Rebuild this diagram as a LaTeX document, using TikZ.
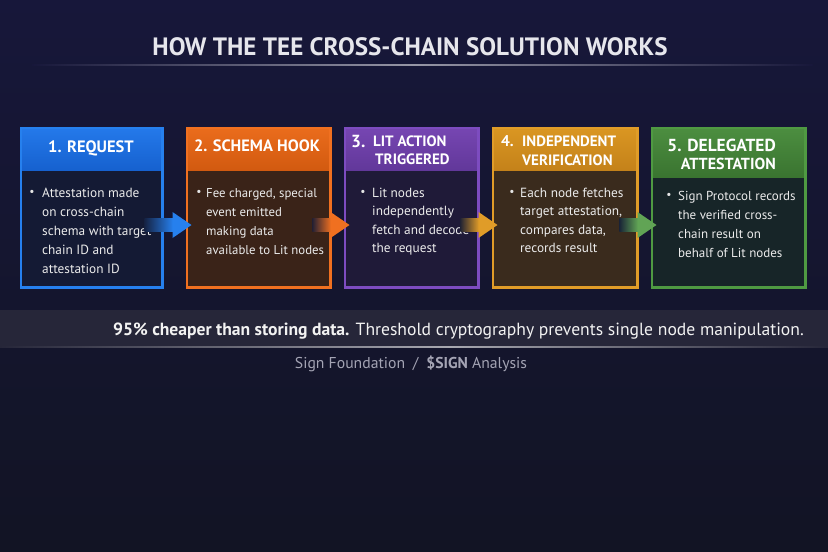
\documentclass[tikz,border=0pt]{standalone}
\usepackage{fontspec}
\setmainfont{PT Sans}
\usetikzlibrary{calc}
\definecolor{bgtop}{HTML}{17173A}
\definecolor{bgbot}{HTML}{121424}
\definecolor{bluehdrA}{HTML}{2479EA}
\definecolor{bluehdrB}{HTML}{1661CF}
\definecolor{blueborder}{HTML}{2680EE}
\definecolor{bluebody}{HTML}{141A34}
\definecolor{orghdrA}{HTML}{EA6C1C}
\definecolor{orghdrB}{HTML}{D25A10}
\definecolor{orgborder}{HTML}{F07020}
\definecolor{orgbody}{HTML}{3A2318}
\definecolor{purhdrA}{HTML}{7646B2}
\definecolor{purhdrB}{HTML}{62389A}
\definecolor{purborder}{HTML}{7D4CC0}
\definecolor{purbody}{HTML}{1F1A38}
\definecolor{goldhdrA}{HTML}{DA9622}
\definecolor{goldhdrB}{HTML}{C4821A}
\definecolor{goldborder}{HTML}{E09C28}
\definecolor{goldbody}{HTML}{3A2B1D}
\definecolor{grnhdrA}{HTML}{4C8E40}
\definecolor{grnhdrB}{HTML}{3A7430}
\definecolor{grnborder}{HTML}{4F9A42}
\definecolor{grnbody}{HTML}{172528}
\definecolor{titlecol}{HTML}{E6E6EC}
\definecolor{bandcol}{HTML}{262639}
\definecolor{footcol}{HTML}{A4A4B4}
\newcommand{\hdrsz}[1]{\bfseries\fontsize{#1}{#1}\selectfont}
\newcommand{\txtlines}[1]{\begin{tabular}[t]{@{}l@{}}#1\end{tabular}}
\tikzset{
  card/.style={rectangle, inner sep=0pt, minimum height=159pt, anchor=north west},
  hdrtext/.style={text=white, font=\hdrsz{16.5}, inner sep=0pt, anchor=base},
  bodytext/.style={text=white!92!black, font=\fontsize{13.3}{19}\selectfont, inner sep=0pt, anchor=base west},
  bul/.style={text=white!90!black, font=\fontsize{11.5}{12}\selectfont, inner sep=0pt, anchor=base},
}
\newcommand{\cardbox}[5]{% name, color prefix, x, width, header height
  \node[card, fill=#2body, minimum width=#4pt] (#1) at (#3,128) {};
  \shade[top color=#2hdrA, bottom color=#2hdrB] (#1.north west) rectangle ($(#1.north east)+(0,#5)$);
  \draw[#2border, line width=2.4pt] (#1.south west) rectangle (#1.north east);
}
\newcommand{\flowarrow}[3]{% from, to, color
  \shade[left color=#3!8!bluebody, right color=#3] ($(#1.east|-ay)+(-18,-6.5)$) rectangle ($(#2.west|-ay)+(-14,6.5)$);
  \fill[#3] ($(#2.west|-ay)+(-14.5,-13)$) -- ($(#2.west|-ay)+(4.5,0)$) -- ($(#2.west|-ay)+(-14.5,13)$) -- cycle;
}
\begin{document}
\begin{tikzpicture}[x=1pt,y=-1pt]
\useasboundingbox (0,0) rectangle (828,552);
\shade[top color=bgtop, bottom color=bgbot] (0,0) rectangle (828,552);
% title
\node[text=titlecol, font=\hdrsz{25.1}, inner sep=0pt, anchor=base] (title) at (410,55) {HOW THE TEE CROSS-CHAIN SOLUTION WORKS};
\shade[left color=bgtop, right color=white!55!bgtop] (32,64.5) rectangle (414,65.5);
\shade[left color=white!55!bgtop, right color=bgtop] (414,64.5) rectangle (813,65.5);
\coordinate (ay) at (0,225);
% cards
\cardbox{c1}{blue}{21}{141}{42}
\cardbox{c2}{org}{187}{143}{42}
\cardbox{c3}{pur}{345}{133}{42}
\cardbox{c4}{gold}{493}{144}{42}
\cardbox{c5}{grn}{652}{153}{49}
% headers
\node[hdrtext] (h1) at (91,152) {1. REQUEST};
\node[hdrtext, font=\hdrsz{16.4}] (h2) at (257,151) {2. SCHEMA HOOK};
\node[hdrtext, font=\hdrsz{17.5}, anchor=base west] (h3n) at (351,147) {3.};
\node[hdrtext, font=\hdrsz{15}, anchor=base west] (h3a) at (373,146) {LIT ACTION};
\node[hdrtext, font=\hdrsz{15}, anchor=base west] (h3b) at (375,164) {TRIGGERED};
\node[hdrtext, font=\hdrsz{15.5}, anchor=base west] (h4n) at (501,146) {4.};
\node[hdrtext, font=\hdrsz{15}, anchor=base west] (h4a) at (522,146) {INDEPENDENT};
\node[hdrtext, font=\hdrsz{15}, anchor=base west] (h4b) at (522,165) {VERIFICATION};
\node[hdrtext, font=\hdrsz{17.4}, anchor=base east] (h5a) at (776,151) {5. DELEGATED};
\node[hdrtext, font=\hdrsz{16}, anchor=base east] (h5b) at (776,169) {ATTESTATION};
% bodies
\node[bul] (u1) at (32,195.5) {•};
\node[bodytext] (t1) at (42,197) {\txtlines{Attestation made\\on cross-chain\\schema with target\\chain ID and\\attestation ID}};
\node[bul] (u2) at (199,195.5) {•};
\node[bodytext, font=\fontsize{12.8}{19}\selectfont] (t2) at (206,197) {\txtlines{Fee charged, special\\event emitted\\making data\\available to Lit nodes}};
\node[bul] (u3) at (363,195.5) {•};
\node[bodytext, font=\fontsize{13.3}{18.6}\selectfont] (t3) at (372,197) {\txtlines{Lit nodes\\independently\\fetch and decode\\the request}};
\node[bul] (u4) at (512,195.5) {•};
\node[bodytext, font=\fontsize{13.3}{18.6}\selectfont] (t4) at (520,197) {\txtlines{Each node fetches\\target attestation,\\compares data,\\records result}};
\node[bul] (u5) at (669,198.5) {•};
\node[bodytext, font=\fontsize{13}{19}\selectfont] (t5) at (678,200) {\txtlines{Sign Protocol records\\the verified cross-\\chain result on\\behalf of Lit nodes}};
% arrows
\flowarrow{c1}{c2}{blueborder}
\flowarrow{c2}{c3}{orgborder}
\flowarrow{c3}{c4}{goldborder}
\flowarrow{c4}{c5}{grnborder!90!white}
% band
\fill[bandcol] (0,310) rectangle (828,347);
\shade[left color=bandcol, right color=white!60!bandcol] (0,346.3) rectangle (450,347.7);
\shade[left color=white!60!bandcol, right color=bandcol] (450,346.3) rectangle (828,347.7);
\node[text=white!95!black, font=\fontsize{17.6}{20}\selectfont, inner sep=0pt, anchor=base east] (band) at (804,335) {\textbf{95\% cheaper than storing data.} Threshold cryptography prevents single node manipulation.};
% footer
\node[text=footcol, font=\fontsize{15.7}{18}\selectfont, inner sep=0pt, anchor=base] (foot) at (411,368) {Sign Foundation\enspace/\enspace\textbf{\$SIGN} Analysis};
\end{tikzpicture}
\end{document}
